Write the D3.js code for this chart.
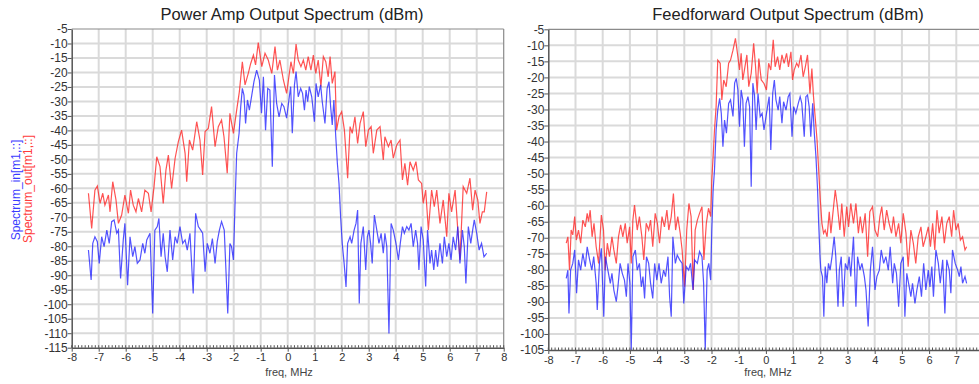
<!DOCTYPE html>
<html>
<head>
<meta charset="utf-8">
<script src="https://cdn.jsdelivr.net/npm/d3@7"></script>
<style>
  body { margin: 0; background: #fff; }
  svg { display: block; font-family: "Liberation Sans", Arial, sans-serif; }
</style>
</head>
<body>
<div id="chart"></div>
<script>
// ------- Data (freq MHz, dBm) -------
const paOut = [
  [-7.38,-61.7],[-7.26,-73.8],[-7.14,-60.6],[-7.05,-59.2],[-6.95,-65.2],[-6.85,-61.7],[-6.77,-65.8],[-6.64,-62.3],
  [-6.58,-68.1],[-6.48,-57.7],[-6.36,-64.0],[-6.27,-72.1],[-6.15,-69.2],[-6.03,-62.3],[-5.90,-68.6],[-5.82,-60.6],
  [-5.72,-65.8],[-5.62,-68.1],[-5.53,-63.5],[-5.41,-68.1],[-5.29,-60.6],[-5.16,-61.7],[-5.06,-68.1],[-4.95,-59.4],
  [-4.85,-49.1],[-4.73,-52.5],[-4.61,-65.2],[-4.51,-53.7],[-4.42,-48.5],[-4.30,-60.0],[-4.17,-49.6],[-4.05,-43.9],
  [-3.93,-39.9],[-3.80,-47.9],[-3.74,-57.7],[-3.64,-43.3],[-3.52,-46.8],[-3.37,-37.0],[-3.25,-43.3],[-3.15,-55.4],
  [-3.06,-40.4],[-2.94,-39.3],[-2.82,-31.8],[-2.69,-45.6],[-2.57,-38.7],[-2.45,-36.4],[-2.36,-42.2],[-2.24,-54.8],
  [-2.14,-34.1],[-2.01,-41.0],[-1.89,-33.0],[-1.79,-26.6],[-1.68,-16.3],[-1.58,-24.3],[-1.46,-20.3],[-1.37,-16.9],
  [-1.27,-14.0],[-1.19,-17.4],[-1.09,-9.7],[-0.96,-18.0],[-0.84,-13.4],[-0.72,-15.7],[-0.59,-20.3],[-0.47,-11.1],
  [-0.38,-19.2],[-0.29,-15.7],[-0.16,-22.6],[-0.04,-27.2],[0.12,-16.3],[0.21,-20.3],[0.31,-10.2],[0.39,-15.7],
  [0.49,-18.0],[0.58,-15.7],[0.67,-19.2],[0.76,-14.5],[0.86,-19.2],[0.95,-14.0],[1.04,-20.3],[1.13,-15.7],
  [1.23,-24.9],[1.32,-14.5],[1.41,-16.3],[1.50,-21.5],[1.57,-14.5],[1.65,-23.8],[1.75,-19.7],[1.81,-39.9],
  [1.90,-35.3],[2.00,-33.5],[2.10,-39.9],[2.22,-56.5],[2.31,-38.7],[2.39,-41.0],[2.49,-35.3],[2.59,-44.5],
  [2.68,-37.6],[2.80,-33.5],[2.89,-45.6],[2.99,-39.9],[3.09,-38.7],[3.17,-47.9],[3.30,-39.9],[3.42,-38.7],
  [3.54,-50.2],[3.60,-42.2],[3.73,-45.6],[3.83,-43.3],[3.91,-49.6],[4.04,-45.0],[4.16,-43.3],[4.25,-57.1],
  [4.34,-51.4],[4.44,-58.9],[4.53,-50.8],[4.65,-53.7],[4.75,-50.8],[4.84,-57.1],[4.96,-58.3],[5.02,-65.2],
  [5.11,-60.6],[5.21,-74.4],[5.33,-60.6],[5.43,-66.3],[5.52,-60.6],[5.64,-72.1],[5.76,-64.0],[5.89,-76.7],
  [5.97,-61.7],[6.07,-68.1],[6.20,-60.6],[6.30,-74.4],[6.38,-84.7],[6.50,-59.4],[6.63,-61.7],[6.75,-56.5],
  [6.85,-67.5],[6.94,-60.6],[7.04,-64.0],[7.12,-72.1],[7.21,-68.1],[7.28,-68.1],[7.37,-61.2]
];

const paIn = [
  [-7.38,-81.3],[-7.28,-91.6],[-7.22,-79.0],[-7.14,-76.7],[-7.05,-78.4],[-6.98,-85.9],[-6.89,-76.7],[-6.80,-80.1],
  [-6.70,-74.4],[-6.61,-79.0],[-6.52,-71.5],[-6.43,-70.9],[-6.33,-75.5],[-6.27,-74.4],[-6.19,-91.1],[-6.09,-77.8],
  [-6.03,-72.1],[-5.93,-93.4],[-5.84,-76.7],[-5.74,-83.6],[-5.66,-80.1],[-5.57,-85.9],[-5.47,-84.7],[-5.37,-79.0],
  [-5.29,-82.4],[-5.22,-77.8],[-5.10,-75.5],[-5.00,-103.2],[-4.92,-74.4],[-4.83,-73.2],[-4.77,-70.4],[-4.69,-83.6],
  [-4.61,-75.5],[-4.54,-83.6],[-4.46,-88.8],[-4.36,-74.4],[-4.26,-84.7],[-4.17,-76.7],[-4.09,-79.0],[-3.99,-73.2],
  [-3.89,-79.0],[-3.80,-77.8],[-3.72,-81.3],[-3.62,-75.5],[-3.50,-96.3],[-3.41,-68.6],[-3.31,-73.2],[-3.22,-74.4],
  [-3.15,-75.5],[-3.06,-88.8],[-2.98,-79.0],[-2.88,-82.4],[-2.79,-77.3],[-2.69,-85.9],[-2.61,-78.4],[-2.53,-74.4],
  [-2.45,-71.5],[-2.35,-74.4],[-2.22,-103.2],[-2.14,-79.0],[-2.08,-80.1],[-2.01,-84.7],[-1.95,-65.2],[-1.89,-47.9],
  [-1.80,-41.0],[-1.74,-31.8],[-1.68,-25.5],[-1.62,-27.8],[-1.56,-37.6],[-1.49,-29.5],[-1.42,-33.0],[-1.33,-27.8],
  [-1.25,-23.2],[-1.15,-19.2],[-1.05,-22.6],[-0.97,-34.1],[-0.90,-21.5],[-0.82,-39.9],[-0.74,-25.5],[-0.66,-26.1],
  [-0.57,-52.5],[-0.49,-20.9],[-0.41,-30.7],[-0.32,-35.3],[-0.22,-30.7],[-0.14,-31.8],[-0.04,-35.8],[0.06,-28.4],
  [0.11,-24.9],[0.17,-41.0],[0.25,-24.3],[0.31,-19.7],[0.39,-28.4],[0.48,-25.5],[0.55,-27.2],[0.62,-33.0],
  [0.68,-26.1],[0.74,-30.1],[0.80,-24.9],[0.89,-28.4],[0.99,-37.0],[1.05,-23.8],[1.13,-28.4],[1.22,-24.3],
  [1.28,-30.1],[1.38,-37.6],[1.46,-25.5],[1.53,-23.2],[1.59,-31.8],[1.65,-38.1],[1.71,-29.5],[1.78,-42.2],
  [1.84,-51.4],[1.90,-58.3],[1.96,-69.8],[2.02,-79.0],[2.09,-85.9],[2.16,-94.0],[2.22,-79.0],[2.31,-76.7],
  [2.37,-79.0],[2.46,-74.4],[2.53,-72.1],[2.59,-67.5],[2.65,-99.7],[2.71,-79.0],[2.80,-73.2],[2.89,-88.2],
  [2.95,-76.7],[3.01,-74.4],[3.07,-79.0],[3.13,-85.9],[3.21,-69.2],[3.30,-74.4],[3.38,-79.0],[3.46,-75.5],
  [3.54,-82.4],[3.60,-75.5],[3.67,-80.1],[3.75,-110.1],[3.83,-72.1],[3.91,-74.4],[4.01,-79.0],[4.10,-84.7],
  [4.17,-79.0],[4.25,-73.2],[4.32,-75.5],[4.41,-73.2],[4.49,-74.4],[4.57,-72.1],[4.65,-80.1],[4.74,-74.4],
  [4.81,-79.0],[4.86,-88.2],[4.94,-73.2],[5.02,-77.8],[5.11,-93.9],[5.18,-74.4],[5.27,-85.9],[5.33,-81.3],
  [5.41,-88.2],[5.48,-81.3],[5.55,-87.0],[5.64,-79.0],[5.73,-85.9],[5.80,-76.7],[5.89,-83.6],[5.97,-79.0],
  [6.05,-84.7],[6.13,-76.7],[6.22,-81.3],[6.30,-73.2],[6.38,-85.9],[6.47,-74.4],[6.54,-80.1],[6.60,-92.8],
  [6.69,-73.2],[6.78,-79.0],[6.85,-74.4],[6.91,-70.9],[7.00,-75.5],[7.09,-81.3],[7.18,-79.0],[7.27,-83.6],
  [7.37,-82.4]
];

const ffOut = [
  [-7.34,-71.7],[-7.28,-69.7],[-7.22,-80.1],[-7.16,-67.6],[-7.10,-69.1],[-7.03,-63.4],[-6.97,-70.7],[-6.89,-67.6],
  [-6.81,-71.7],[-6.73,-64.5],[-6.64,-66.6],[-6.57,-62.4],[-6.52,-65.0],[-6.46,-61.4],[-6.39,-69.7],[-6.32,-65.5],
  [-6.24,-72.8],[-6.15,-78.0],[-6.05,-62.9],[-5.97,-67.6],[-5.91,-80.1],[-5.83,-71.7],[-5.75,-75.9],[-5.66,-69.7],
  [-5.59,-73.8],[-5.50,-78.0],[-5.42,-69.7],[-5.34,-66.0],[-5.26,-69.7],[-5.17,-65.5],[-5.10,-71.7],[-5.01,-66.6],
  [-4.95,-78.0],[-4.89,-64.5],[-4.83,-59.8],[-4.73,-67.6],[-4.65,-63.4],[-4.56,-69.7],[-4.49,-76.9],[-4.40,-65.5],
  [-4.31,-67.6],[-4.24,-64.5],[-4.16,-72.8],[-4.07,-62.4],[-3.99,-65.5],[-3.91,-71.7],[-3.82,-63.4],[-3.73,-66.6],
  [-3.64,-61.4],[-3.57,-67.6],[-3.48,-63.4],[-3.40,-56.2],[-3.32,-67.6],[-3.24,-63.4],[-3.15,-68.6],[-3.08,-73.8],
  [-2.99,-85.3],[-2.91,-67.6],[-2.83,-59.3],[-2.75,-63.4],[-2.67,-86.3],[-2.60,-67.6],[-2.52,-64.5],[-2.44,-62.4],
  [-2.35,-60.3],[-2.28,-76.9],[-2.19,-65.5],[-2.11,-60.8],[-2.03,-63.4],[-1.99,-52.0],[-1.94,-44.7],[-1.89,-36.4],
  [-1.83,-29.1],[-1.77,-14.6],[-1.68,-15.6],[-1.62,-27.0],[-1.55,-20.8],[-1.46,-22.9],[-1.37,-15.6],[-1.30,-14.6],
  [-1.21,-11.5],[-1.12,-7.8],[-1.03,-13.5],[-0.97,-17.7],[-0.91,-12.5],[-0.85,-20.8],[-0.79,-17.7],[-0.70,-13.0],
  [-0.63,-22.9],[-0.54,-18.7],[-0.45,-9.4],[-0.38,-16.7],[-0.32,-25.0],[-0.26,-14.1],[-0.17,-20.8],[-0.07,-21.9],
  [0.02,-23.9],[0.10,-15.6],[0.18,-17.7],[0.27,-8.3],[0.34,-16.7],[0.43,-13.5],[0.51,-17.7],[0.59,-13.0],
  [0.67,-15.6],[0.76,-12.5],[0.83,-16.7],[0.92,-12.0],[0.98,-20.8],[1.04,-17.7],[1.13,-15.6],[1.20,-16.7],
  [1.29,-13.0],[1.37,-19.8],[1.45,-16.7],[1.53,-13.0],[1.62,-25.0],[1.69,-17.2],[1.75,-26.0],[1.81,-32.2],
  [1.88,-39.5],[1.94,-48.9],[2.00,-58.2],[2.06,-65.5],[2.12,-68.6],[2.18,-67.6],[2.25,-69.7],[2.33,-61.9],
  [2.39,-68.6],[2.45,-63.4],[2.55,-55.1],[2.63,-60.3],[2.72,-67.6],[2.79,-59.3],[2.88,-69.7],[2.97,-60.3],
  [3.04,-66.6],[3.12,-59.3],[3.22,-65.5],[3.31,-59.3],[3.40,-68.6],[3.47,-63.4],[3.55,-68.6],[3.65,-62.4],
  [3.74,-75.9],[3.82,-61.9],[3.92,-60.3],[4.01,-67.6],[4.11,-69.7],[4.19,-63.4],[4.26,-60.3],[4.35,-67.6],
  [4.44,-61.4],[4.53,-65.5],[4.62,-68.6],[4.69,-63.4],[4.78,-69.7],[4.88,-65.5],[4.96,-71.7],[5.05,-62.4],
  [5.15,-68.6],[5.23,-79.0],[5.33,-67.6],[5.42,-71.7],[5.51,-78.0],[5.60,-69.7],[5.70,-66.6],[5.78,-72.8],
  [5.88,-69.7],[5.97,-66.6],[6.05,-72.8],[6.13,-65.5],[6.21,-73.8],[6.29,-61.4],[6.37,-68.6],[6.47,-63.4],
  [6.56,-71.7],[6.65,-65.5],[6.74,-63.4],[6.83,-69.7],[6.90,-61.4],[6.99,-67.6],[7.07,-65.5],[7.15,-70.7],
  [7.23,-69.7],[7.32,-73.8],[7.38,-72.8]
];

const ffIn = [
  [-7.34,-82.7],[-7.28,-80.1],[-7.24,-93.6],[-7.18,-80.1],[-7.10,-78.0],[-7.03,-73.8],[-6.96,-87.3],[-6.89,-76.9],
  [-6.81,-80.1],[-6.73,-74.9],[-6.64,-79.0],[-6.57,-72.8],[-6.48,-76.9],[-6.40,-80.1],[-6.33,-75.9],[-6.24,-84.2],
  [-6.20,-92.5],[-6.12,-78.0],[-6.05,-73.3],[-5.96,-94.6],[-5.90,-75.9],[-5.81,-80.1],[-5.72,-84.2],[-5.66,-81.1],
  [-5.59,-86.3],[-5.50,-89.9],[-5.44,-85.3],[-5.36,-78.0],[-5.28,-81.1],[-5.20,-83.2],[-5.13,-88.4],[-5.07,-78.0],
  [-5.00,-84.2],[-4.95,-105.0],[-4.89,-75.9],[-4.80,-73.8],[-4.73,-80.1],[-4.65,-78.0],[-4.58,-85.3],[-4.52,-82.1],
  [-4.46,-88.9],[-4.39,-75.9],[-4.31,-78.0],[-4.24,-84.2],[-4.16,-88.9],[-4.09,-78.0],[-4.01,-83.2],[-3.93,-78.0],
  [-3.85,-84.2],[-3.76,-80.1],[-3.69,-82.1],[-3.60,-75.9],[-3.54,-88.4],[-3.48,-94.6],[-3.42,-69.7],[-3.33,-78.0],
  [-3.26,-75.4],[-3.17,-76.9],[-3.08,-78.0],[-3.02,-90.5],[-2.93,-79.0],[-2.84,-80.1],[-2.77,-78.0],[-2.68,-86.3],
  [-2.62,-76.9],[-2.52,-78.0],[-2.44,-74.3],[-2.35,-75.9],[-2.29,-84.2],[-2.23,-105.0],[-2.16,-80.1],[-2.10,-78.0],
  [-2.03,-83.2],[-1.99,-67.6],[-1.94,-55.1],[-1.89,-48.9],[-1.83,-36.4],[-1.77,-30.2],[-1.70,-26.5],[-1.64,-31.2],
  [-1.58,-41.6],[-1.52,-33.3],[-1.45,-37.4],[-1.37,-28.1],[-1.30,-27.0],[-1.21,-32.2],[-1.15,-21.8],[-1.09,-20.3],
  [-1.03,-23.9],[-0.97,-35.4],[-0.91,-23.9],[-0.85,-27.0],[-0.79,-41.6],[-0.73,-28.1],[-0.66,-26.0],[-0.60,-29.1],
  [-0.54,-54.1],[-0.48,-21.8],[-0.42,-25.5],[-0.36,-36.4],[-0.29,-25.0],[-0.21,-32.2],[-0.14,-31.2],[-0.07,-36.4],
  [0.06,-29.1],[0.12,-26.0],[0.18,-42.6],[0.25,-25.0],[0.31,-20.8],[0.37,-27.0],[0.45,-30.2],[0.51,-26.0],
  [0.59,-34.3],[0.65,-27.6],[0.74,-30.2],[0.82,-26.0],[0.88,-25.0],[0.96,-38.5],[1.02,-29.1],[1.10,-31.2],
  [1.19,-28.1],[1.26,-26.0],[1.32,-28.1],[1.41,-38.5],[1.47,-26.0],[1.53,-25.5],[1.59,-29.1],[1.65,-38.5],
  [1.72,-28.1],[1.78,-37.4],[1.84,-44.7],[1.90,-55.1],[1.94,-65.5],[1.99,-75.9],[2.02,-80.1],[2.08,-82.1],
  [2.13,-94.6],[2.18,-79.0],[2.24,-84.2],[2.30,-78.0],[2.36,-80.1],[2.43,-75.9],[2.51,-69.7],[2.57,-75.9],
  [2.65,-91.5],[2.70,-80.1],[2.77,-75.9],[2.84,-91.5],[2.92,-78.0],[3.00,-80.1],[3.06,-75.9],[3.12,-82.1],
  [3.22,-69.7],[3.31,-91.5],[3.37,-75.9],[3.46,-80.1],[3.53,-78.0],[3.62,-82.1],[3.68,-86.3],[3.76,-97.7],
  [3.84,-80.1],[3.92,-72.8],[4.01,-86.3],[4.08,-82.1],[4.17,-80.1],[4.24,-73.8],[4.33,-78.0],[4.41,-75.9],
  [4.50,-80.1],[4.57,-72.8],[4.66,-84.2],[4.72,-78.0],[4.80,-81.1],[4.88,-91.5],[4.96,-78.0],[5.05,-75.9],
  [5.11,-94.6],[5.18,-81.1],[5.27,-85.3],[5.33,-88.4],[5.39,-84.2],[5.48,-90.5],[5.55,-86.3],[5.64,-82.1],
  [5.72,-88.4],[5.80,-78.0],[5.88,-86.3],[5.97,-80.1],[6.03,-85.3],[6.10,-79.0],[6.16,-88.4],[6.25,-73.8],
  [6.34,-78.0],[6.41,-84.2],[6.50,-76.9],[6.58,-93.6],[6.65,-76.9],[6.74,-80.1],[6.80,-87.3],[6.86,-73.8],
  [6.96,-78.0],[7.05,-80.1],[7.11,-82.1],[7.17,-79.0],[7.23,-84.2],[7.32,-82.1],[7.38,-84.2]
];

const titles = ["Power Amp Output Spectrum (dBm)", "Feedforward Output Spectrum (dBm)"];
const xTicks = d3.range(-8, 9, 1);

// ------- Chart Setup -------
const W = 979, H = 384;
const svg = d3.select("#chart")
  .append("svg")
  .attr("width", W)
  .attr("height", H);

const RED = "#ff1a1a";
const BLUE = "#1a1aff";
const fmt = d => String(d);   // plain hyphen minus like the original

// panel positions (pixels in the 979x384 page)
const panels = [
  { title: titles[0], xr: [71.7, 503.7], yd: [-115, -5], yr: [347.7, 29], out: paOut, inp: paIn, rightBorder: true },
  { title: titles[1], xr: [548.3, 983.5], yd: [-105, -5], yr: [350, 29.3], out: ffOut, inp: ffIn, rightBorder: false }
];

panels.forEach((p, i) => {
  const x = d3.scaleLinear().domain([-8, 8]).range(p.xr);
  const y = d3.scaleLinear().domain(p.yd).range(p.yr);
  const yTicks = d3.range(p.yd[0], p.yd[1] + 1, 5);
  // only labels that fit on the page
  const shownX = xTicks.filter(d => x(d) < W - 4);
  const g = svg.append("g");

  // grid
  g.append("g")
    .selectAll("line")
    .data(xTicks.slice(1, -1))
    .join("line")
    .attr("x1", d => x(d)).attr("x2", d => x(d))
    .attr("y1", p.yr[1]).attr("y2", p.yr[0])
    .attr("stroke", "#dadada")
    .attr("stroke-width", 2);

  g.append("g")
    .selectAll("line")
    .data(yTicks.slice(1, -1))
    .join("line")
    .attr("x1", p.xr[0]).attr("x2", p.xr[1])
    .attr("y1", d => y(d)).attr("y2", d => y(d))
    .attr("stroke", "#dadada")
    .attr("stroke-width", 2);

  // clip for traces
  svg.append("clipPath")
    .attr("id", "clip" + i)
    .append("rect")
    .attr("x", p.xr[0]).attr("y", p.yr[1])
    .attr("width", p.xr[1] - p.xr[0])
    .attr("height", p.yr[0] - p.yr[1]);

  const line = d3.line()
    .x(d => x(d[0]))
    .y(d => y(d[1]));

  const traces = g.append("g").attr("clip-path", `url(#clip${i})`);
  traces.append("path")
    .datum(p.out)
    .attr("d", line)
    .attr("fill", "none")
    .attr("stroke", RED)
    .attr("stroke-opacity", 0.75)
    .attr("stroke-width", 1.2);

  traces.append("path")
    .datum(p.inp)
    .attr("d", line)
    .attr("fill", "none")
    .attr("stroke", BLUE)
    .attr("stroke-opacity", 0.75)
    .attr("stroke-width", 1.2);

  // frame: top and right
  g.append("line")
    .attr("x1", p.xr[0]).attr("x2", p.xr[1])
    .attr("y1", p.yr[1]).attr("y2", p.yr[1])
    .attr("stroke", "#8a8a8a").attr("stroke-width", 1.2);
  if (p.rightBorder) {
    g.append("line")
      .attr("x1", p.xr[1]).attr("x2", p.xr[1])
      .attr("y1", p.yr[1]).attr("y2", p.yr[0])
      .attr("stroke", "#8a8a8a").attr("stroke-width", 1.2);
  }

  // ------- Axes -------
  const yAxis = g.append("g")
    .attr("transform", `translate(${p.xr[0]},0)`)
    .call(d3.axisLeft(y).tickValues(yTicks).tickSize(4).tickSizeOuter(0).tickFormat(fmt));
  yAxis.select(".domain").attr("stroke", "#555").attr("stroke-width", 1.5);
  yAxis.selectAll(".tick line").attr("stroke", "#555");
  yAxis.selectAll("text")
    .attr("fill", "#333")
    .attr("x", -4)
    .style("font-size", "12px")
    .style("font-family", "Liberation Sans, Arial, sans-serif");

  const xAxis = g.append("g")
    .attr("transform", `translate(0,${p.yr[0]})`)
    .call(d3.axisBottom(x).tickValues(shownX).tickSize(4).tickSizeOuter(0).tickFormat(fmt));
  xAxis.select(".domain").attr("stroke", "#555").attr("stroke-width", 1.5);
  xAxis.selectAll(".tick line").attr("stroke", "#555");
  xAxis.selectAll("text")
    .attr("fill", "#333")
    .attr("y", 6)
    .style("font-size", "11px")
    .style("font-family", "Liberation Sans, Arial, sans-serif");

  // minor ticks along the freq axis
  g.append("g")
    .selectAll("line")
    .data(d3.range(-8, 8.001, 0.125))
    .join("line")
    .attr("x1", d => x(d)).attr("x2", d => x(d))
    .attr("y1", p.yr[0]).attr("y2", p.yr[0] - 2.5)
    .attr("stroke", "#555")
    .attr("stroke-width", 1);

  // ------- Labels -------
  const cx = i === 0 ? 292 : 788;
  svg.append("text")
    .attr("x", cx)
    .attr("y", 20)
    .attr("text-anchor", "middle")
    .attr("fill", "#222")
    .style("font-size", "16.5px")
    .text(p.title);

  svg.append("text")
    .attr("x", i === 0 ? 289 : 768)
    .attr("y", 376)
    .attr("text-anchor", "middle")
    .attr("fill", "#444")
    .style("font-size", "11px")
    .text("freq, MHz");
});

// y label on the left panel
svg.append("text")
  .attr("transform", "translate(20,190) rotate(-90)")
  .attr("text-anchor", "middle")
  .attr("fill", "#3b3bff")
  .style("font-size", "12px")
  .text("Spectrum_in[m1,::]");

svg.append("text")
  .attr("transform", "translate(32,189) rotate(-90)")
  .attr("text-anchor", "middle")
  .attr("fill", "#ff3b3b")
  .style("font-size", "12px")
  .text("Spectrum_out[m1,::]");
</script>
</body>
</html>
